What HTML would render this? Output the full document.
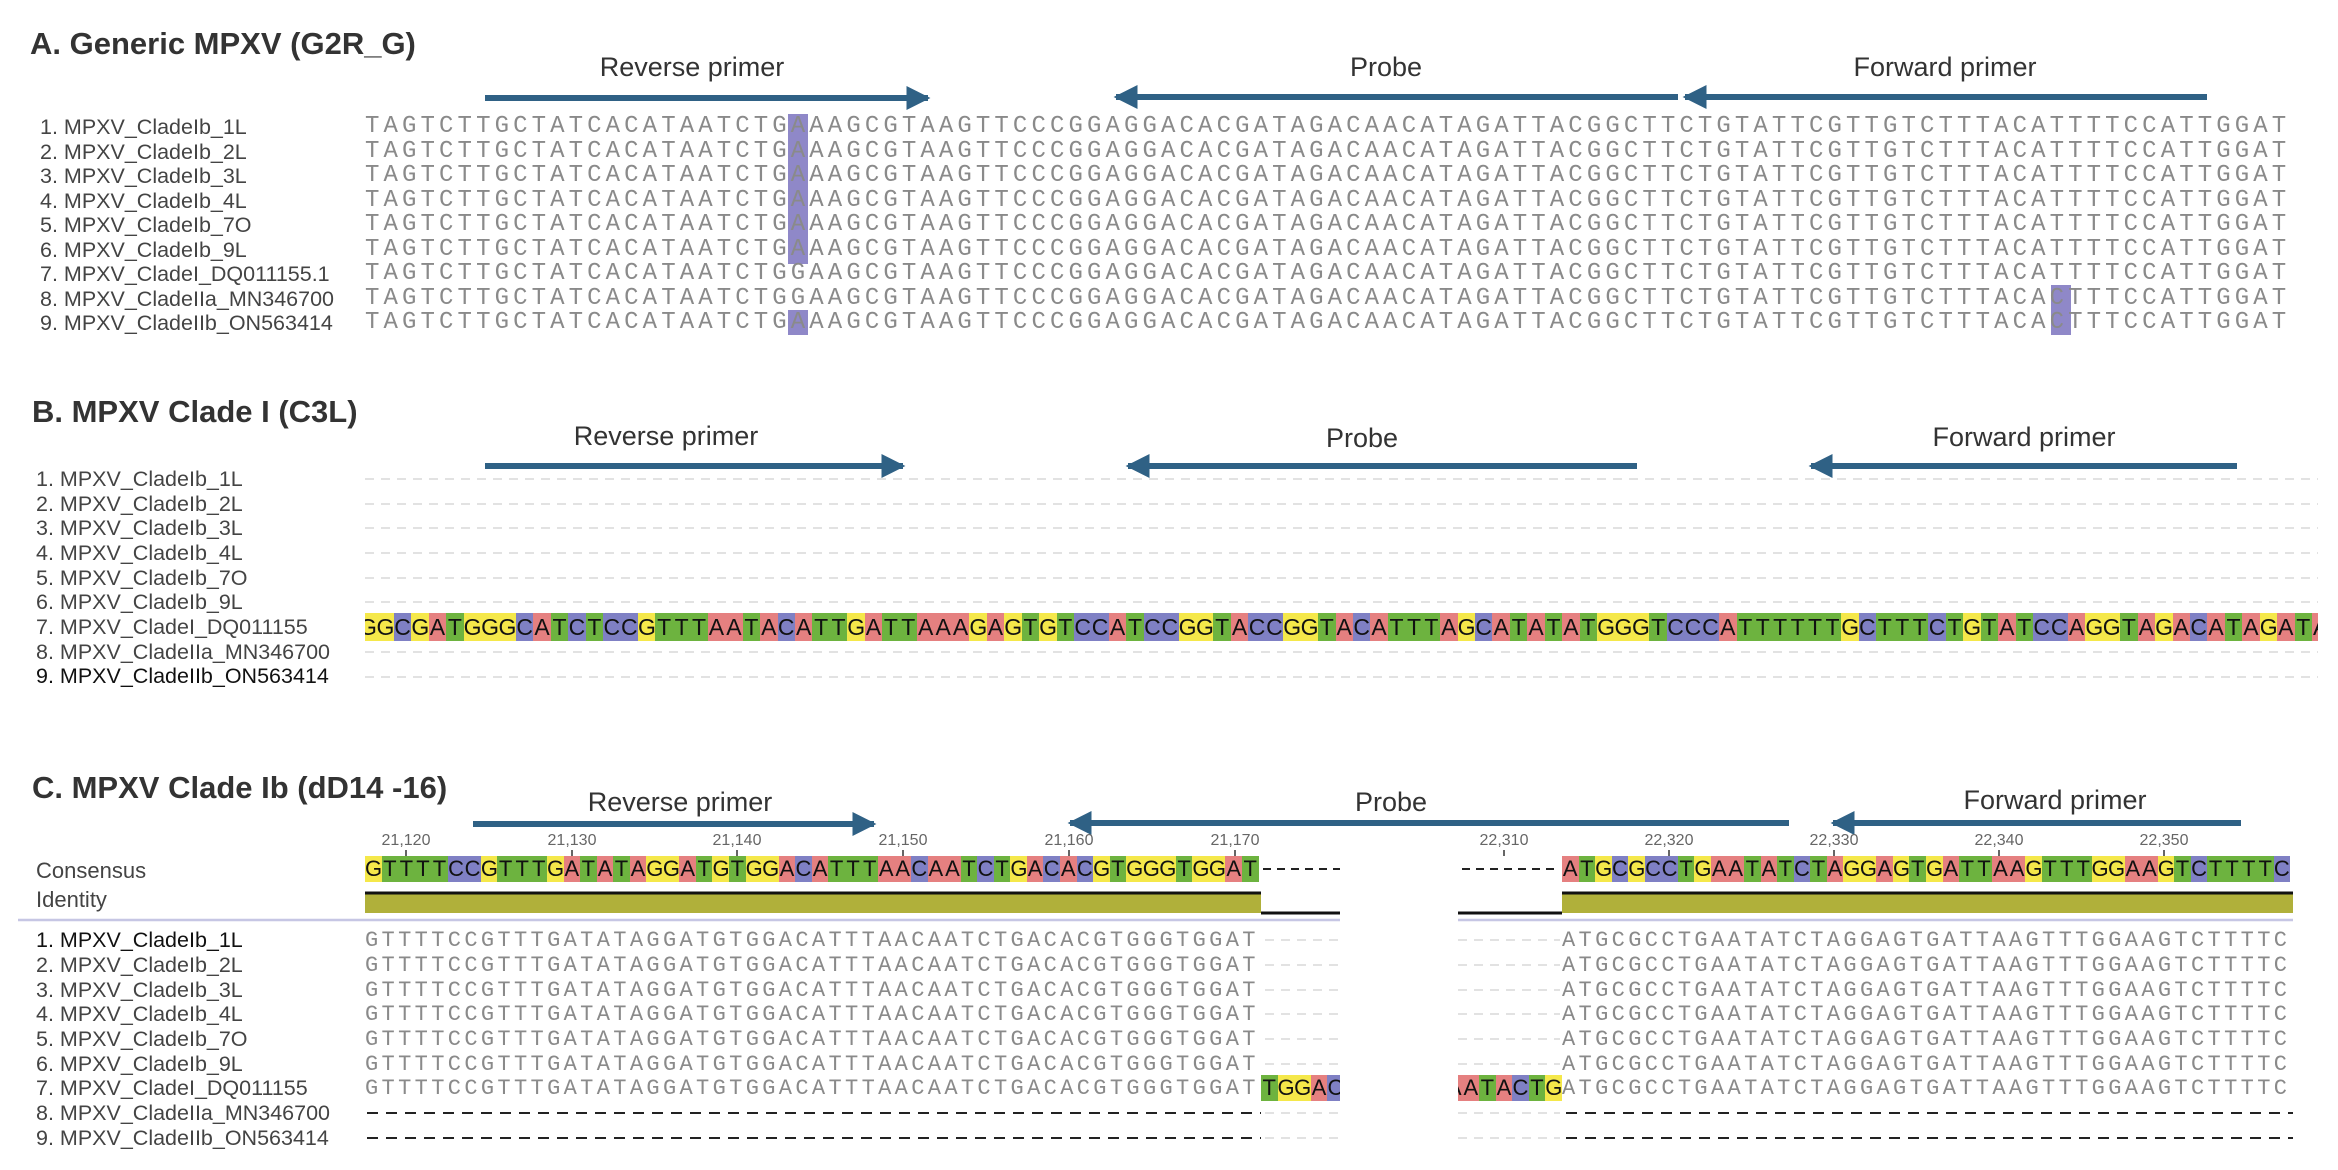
<!DOCTYPE html>
<html><head><meta charset="utf-8"><style>
*{margin:0;padding:0}
body{width:2338px;height:1170px;background:#fff;position:relative;overflow:hidden;font-family:"Liberation Sans",sans-serif}
.t{position:absolute;white-space:nowrap}
.title{font-weight:bold;font-size:31px;color:#333;line-height:36px}
.lab{font-size:27px;color:#333;line-height:32px;transform:translateX(-50%)}
.nm{font-size:21.5px;color:#444;line-height:25px;left:36px}
.sa{font-family:"Liberation Mono",monospace;font-size:24px;letter-spacing:4.11px;color:#8a8a8a;line-height:25px;left:365px}
.sc{font-family:"Liberation Mono",monospace;font-size:22px;letter-spacing:3.35px;color:#8a8a8a;line-height:25px}
.tk{font-size:16px;color:#666;line-height:18px;transform:translateX(-50%)}
.cb{position:absolute;white-space:nowrap;display:flex;overflow:hidden}
.cb b{display:inline-block;flex:none;text-align:center;font-weight:normal;color:#111;font-family:"Liberation Sans",sans-serif}
.w17 b{width:17.44px;height:28px;line-height:28px;font-size:23px}
.w16 b{width:16.55px;height:26px;line-height:26px;font-size:22px}
b.A{background:#e58080}b.T{background:#6db33f}b.G{background:#f5e84a}b.C{background:#7f80c4}
</style></head><body>
<svg width="2338" height="1170" style="position:absolute;left:0;top:0">
<defs>
<marker id="ah" viewBox="0 0 10 10" refX="9" refY="5" markerWidth="4" markerHeight="4" orient="auto"><path d="M0,0L10,5L0,10z" fill="#2f6185"/></marker>
</defs>
<g stroke="#2f6185" stroke-width="6" marker-end="url(#ah)">
<line x1="485" y1="98" x2="928" y2="98"/>
<line x1="1678" y1="97" x2="1116" y2="97"/>
<line x1="2207" y1="97" x2="1685" y2="97"/>
<line x1="485" y1="466" x2="903" y2="466"/>
<line x1="1637" y1="466" x2="1128" y2="466"/>
<line x1="2237" y1="466" x2="1811" y2="466"/>
<line x1="473" y1="824" x2="874" y2="824"/>
<line x1="1789" y1="823" x2="1070" y2="823"/>
<line x1="2241" y1="823" x2="1833" y2="823"/>
</g>
<rect x="788" y="114" width="20" height="150" fill="#8f88c8"/>
<rect x="788" y="310" width="20" height="25" fill="#8f88c8"/>
<rect x="2051" y="285" width="20" height="50" fill="#8f88c8"/>
<g stroke="#e2e2e2" stroke-width="2" stroke-dasharray="9 7">
<line x1="365" y1="479" x2="2318" y2="479"/>
<line x1="365" y1="504" x2="2318" y2="504"/>
<line x1="365" y1="528" x2="2318" y2="528"/>
<line x1="365" y1="553" x2="2318" y2="553"/>
<line x1="365" y1="578" x2="2318" y2="578"/>
<line x1="365" y1="602" x2="2318" y2="602"/>
<line x1="365" y1="652" x2="2318" y2="652"/>
<line x1="365" y1="677" x2="2318" y2="677"/>
</g>
<g stroke="#666" stroke-width="2">
<line x1="406" y1="850" x2="406" y2="856"/><line x1="572" y1="850" x2="572" y2="856"/><line x1="737" y1="850" x2="737" y2="856"/><line x1="903" y1="850" x2="903" y2="856"/><line x1="1069" y1="850" x2="1069" y2="856"/><line x1="1235" y1="850" x2="1235" y2="856"/>
<line x1="1504" y1="850" x2="1504" y2="856"/><line x1="1669" y1="850" x2="1669" y2="856"/><line x1="1834" y1="850" x2="1834" y2="856"/><line x1="1999" y1="850" x2="1999" y2="856"/><line x1="2164" y1="850" x2="2164" y2="856"/>
</g>
<g stroke="#222" stroke-width="2" stroke-dasharray="8 6">
<line x1="1263" y1="869" x2="1340" y2="869"/>
<line x1="1462" y1="869" x2="1560" y2="869"/>
</g>
<rect x="365" y="893" width="896" height="20" fill="#b0b03a"/>
<line x1="365" y1="893" x2="1261" y2="893" stroke="#111" stroke-width="3"/>
<line x1="1261" y1="913" x2="1340" y2="913" stroke="#111" stroke-width="3"/>
<rect x="1562" y="893" width="731" height="20" fill="#b0b03a"/>
<line x1="1562" y1="893" x2="2293" y2="893" stroke="#111" stroke-width="3"/>
<line x1="1458" y1="913" x2="1562" y2="913" stroke="#111" stroke-width="3"/>
<line x1="18" y1="920" x2="1340" y2="920" stroke="#c6c6e4" stroke-width="2.5"/>
<line x1="1458" y1="920" x2="2293" y2="920" stroke="#c6c6e4" stroke-width="2.5"/>
<g stroke="#e2e2e2" stroke-width="2" stroke-dasharray="9 7">
<line x1="1265" y1="940" x2="1340" y2="940"/><line x1="1458" y1="940" x2="1560" y2="940"/>
<line x1="1265" y1="965" x2="1340" y2="965"/><line x1="1458" y1="965" x2="1560" y2="965"/>
<line x1="1265" y1="990" x2="1340" y2="990"/><line x1="1458" y1="990" x2="1560" y2="990"/>
<line x1="1265" y1="1014" x2="1340" y2="1014"/><line x1="1458" y1="1014" x2="1560" y2="1014"/>
<line x1="1265" y1="1039" x2="1340" y2="1039"/><line x1="1458" y1="1039" x2="1560" y2="1039"/>
<line x1="1265" y1="1064" x2="1340" y2="1064"/><line x1="1458" y1="1064" x2="1560" y2="1064"/>
<line x1="1265" y1="1113" x2="1340" y2="1113"/><line x1="1458" y1="1113" x2="1560" y2="1113"/>
<line x1="1265" y1="1138" x2="1340" y2="1138"/><line x1="1458" y1="1138" x2="1560" y2="1138"/>
</g>
<g stroke="#222" stroke-width="2" stroke-dasharray="11 8">
<line x1="367" y1="1113" x2="1261" y2="1113"/><line x1="1566" y1="1113" x2="2293" y2="1113"/>
<line x1="367" y1="1138" x2="1261" y2="1138"/><line x1="1566" y1="1138" x2="2293" y2="1138"/>
</g>
</svg>

<div class="t title" style="left:30px;top:26px">A. Generic MPXV (G2R_G)</div>
<div class="t lab" style="left:692px;top:51px">Reverse primer</div>
<div class="t lab" style="left:1386px;top:51px">Probe</div>
<div class="t lab" style="left:1945px;top:51px">Forward primer</div>

<div class="t nm" style="top:115px;left:40px">1. MPXV_CladeIb_1L</div>
<div class="t nm" style="top:140px;left:40px">2. MPXV_CladeIb_2L</div>
<div class="t nm" style="top:164px;left:40px">3. MPXV_CladeIb_3L</div>
<div class="t nm" style="top:189px;left:40px">4. MPXV_CladeIb_4L</div>
<div class="t nm" style="top:213px;left:40px">5. MPXV_CladeIb_7O</div>
<div class="t nm" style="top:238px;left:40px">6. MPXV_CladeIb_9L</div>
<div class="t nm" style="top:262px;left:40px">7. MPXV_CladeI_DQ011155.1</div>
<div class="t nm" style="top:287px;left:40px">8. MPXV_CladeIIa_MN346700</div>
<div class="t nm" style="top:311px;left:40px">9. MPXV_CladeIIb_ON563414</div>

<div class="t sa" style="top:114px">TAGTCTTGCTATCACATAATCTGAAAGCGTAAGTTCCCGGAGGACACGATAGACAACATAGATTACGGCTTCTGTATTCGTTGTCTTTACATTTTCCATTGGAT</div>
<div class="t sa" style="top:139px">TAGTCTTGCTATCACATAATCTGAAAGCGTAAGTTCCCGGAGGACACGATAGACAACATAGATTACGGCTTCTGTATTCGTTGTCTTTACATTTTCCATTGGAT</div>
<div class="t sa" style="top:163px">TAGTCTTGCTATCACATAATCTGAAAGCGTAAGTTCCCGGAGGACACGATAGACAACATAGATTACGGCTTCTGTATTCGTTGTCTTTACATTTTCCATTGGAT</div>
<div class="t sa" style="top:188px">TAGTCTTGCTATCACATAATCTGAAAGCGTAAGTTCCCGGAGGACACGATAGACAACATAGATTACGGCTTCTGTATTCGTTGTCTTTACATTTTCCATTGGAT</div>
<div class="t sa" style="top:212px">TAGTCTTGCTATCACATAATCTGAAAGCGTAAGTTCCCGGAGGACACGATAGACAACATAGATTACGGCTTCTGTATTCGTTGTCTTTACATTTTCCATTGGAT</div>
<div class="t sa" style="top:237px">TAGTCTTGCTATCACATAATCTGAAAGCGTAAGTTCCCGGAGGACACGATAGACAACATAGATTACGGCTTCTGTATTCGTTGTCTTTACATTTTCCATTGGAT</div>
<div class="t sa" style="top:261px">TAGTCTTGCTATCACATAATCTGGAAGCGTAAGTTCCCGGAGGACACGATAGACAACATAGATTACGGCTTCTGTATTCGTTGTCTTTACATTTTCCATTGGAT</div>
<div class="t sa" style="top:286px">TAGTCTTGCTATCACATAATCTGGAAGCGTAAGTTCCCGGAGGACACGATAGACAACATAGATTACGGCTTCTGTATTCGTTGTCTTTACACTTTCCATTGGAT</div>
<div class="t sa" style="top:310px">TAGTCTTGCTATCACATAATCTGAAAGCGTAAGTTCCCGGAGGACACGATAGACAACATAGATTACGGCTTCTGTATTCGTTGTCTTTACACTTTCCATTGGAT</div>

<div class="t title" style="left:32px;top:394px">B. MPXV Clade I (C3L)</div>
<div class="t lab" style="left:666px;top:420px">Reverse primer</div>
<div class="t lab" style="left:1362px;top:422px">Probe</div>
<div class="t lab" style="left:2024px;top:421px">Forward primer</div>

<div class="t nm" style="top:467px">1. MPXV_CladeIb_1L</div>
<div class="t nm" style="top:492px">2. MPXV_CladeIb_2L</div>
<div class="t nm" style="top:516px">3. MPXV_CladeIb_3L</div>
<div class="t nm" style="top:541px">4. MPXV_CladeIb_4L</div>
<div class="t nm" style="top:566px">5. MPXV_CladeIb_7O</div>
<div class="t nm" style="top:590px">6. MPXV_CladeIb_9L</div>
<div class="t nm" style="top:615px">7. MPXV_CladeI_DQ011155</div>
<div class="t nm" style="top:640px">8. MPXV_CladeIIa_MN346700</div>
<div class="t nm" style="top:664px;color:#111">9. MPXV_CladeIIb_ON563414</div>

<div class="cb w17" style="left:365px;top:613px;width:1953px"><div style="display:flex;margin-left:-6px"><b class="G">G</b><b class="G">G</b><b class="C">C</b><b class="G">G</b><b class="A">A</b><b class="T">T</b><b class="G">G</b><b class="G">G</b><b class="G">G</b><b class="C">C</b><b class="A">A</b><b class="T">T</b><b class="C">C</b><b class="T">T</b><b class="C">C</b><b class="C">C</b><b class="G">G</b><b class="T">T</b><b class="T">T</b><b class="T">T</b><b class="A">A</b><b class="A">A</b><b class="T">T</b><b class="A">A</b><b class="C">C</b><b class="A">A</b><b class="T">T</b><b class="T">T</b><b class="G">G</b><b class="A">A</b><b class="T">T</b><b class="T">T</b><b class="A">A</b><b class="A">A</b><b class="A">A</b><b class="G">G</b><b class="A">A</b><b class="G">G</b><b class="T">T</b><b class="G">G</b><b class="T">T</b><b class="C">C</b><b class="C">C</b><b class="A">A</b><b class="T">T</b><b class="C">C</b><b class="C">C</b><b class="G">G</b><b class="G">G</b><b class="T">T</b><b class="A">A</b><b class="C">C</b><b class="C">C</b><b class="G">G</b><b class="G">G</b><b class="T">T</b><b class="A">A</b><b class="C">C</b><b class="A">A</b><b class="T">T</b><b class="T">T</b><b class="T">T</b><b class="A">A</b><b class="G">G</b><b class="C">C</b><b class="A">A</b><b class="T">T</b><b class="A">A</b><b class="T">T</b><b class="A">A</b><b class="T">T</b><b class="G">G</b><b class="G">G</b><b class="G">G</b><b class="T">T</b><b class="C">C</b><b class="C">C</b><b class="C">C</b><b class="A">A</b><b class="T">T</b><b class="T">T</b><b class="T">T</b><b class="T">T</b><b class="T">T</b><b class="T">T</b><b class="G">G</b><b class="C">C</b><b class="T">T</b><b class="T">T</b><b class="T">T</b><b class="C">C</b><b class="T">T</b><b class="G">G</b><b class="T">T</b><b class="A">A</b><b class="T">T</b><b class="C">C</b><b class="C">C</b><b class="A">A</b><b class="G">G</b><b class="G">G</b><b class="T">T</b><b class="A">A</b><b class="G">G</b><b class="A">A</b><b class="C">C</b><b class="A">A</b><b class="T">T</b><b class="A">A</b><b class="G">G</b><b class="A">A</b><b class="T">T</b><b class="A">A</b></div></div>

<div class="t title" style="left:32px;top:770px">C. MPXV Clade Ib (dD14 -16)</div>
<div class="t lab" style="left:680px;top:786px">Reverse primer</div>
<div class="t lab" style="left:1391px;top:786px">Probe</div>
<div class="t lab" style="left:2055px;top:784px">Forward primer</div>

<div class="t tk" style="left:406px;top:832px">21,120</div>
<div class="t tk" style="left:572px;top:832px">21,130</div>
<div class="t tk" style="left:737px;top:832px">21,140</div>
<div class="t tk" style="left:903px;top:832px">21,150</div>
<div class="t tk" style="left:1069px;top:832px">21,160</div>
<div class="t tk" style="left:1235px;top:832px">21,170</div>
<div class="t tk" style="left:1504px;top:832px">22,310</div>
<div class="t tk" style="left:1669px;top:832px">22,320</div>
<div class="t tk" style="left:1834px;top:832px">22,330</div>
<div class="t tk" style="left:1999px;top:832px">22,340</div>
<div class="t tk" style="left:2164px;top:832px">22,350</div>

<div class="t nm" style="top:858px;font-size:22px">Consensus</div>
<div class="t nm" style="top:887px;font-size:22px">Identity</div>

<div class="cb w16" style="left:365px;top:856px"><b class="G">G</b><b class="T">T</b><b class="T">T</b><b class="T">T</b><b class="T">T</b><b class="C">C</b><b class="C">C</b><b class="G">G</b><b class="T">T</b><b class="T">T</b><b class="T">T</b><b class="G">G</b><b class="A">A</b><b class="T">T</b><b class="A">A</b><b class="T">T</b><b class="A">A</b><b class="G">G</b><b class="G">G</b><b class="A">A</b><b class="T">T</b><b class="G">G</b><b class="T">T</b><b class="G">G</b><b class="G">G</b><b class="A">A</b><b class="C">C</b><b class="A">A</b><b class="T">T</b><b class="T">T</b><b class="T">T</b><b class="A">A</b><b class="A">A</b><b class="C">C</b><b class="A">A</b><b class="A">A</b><b class="T">T</b><b class="C">C</b><b class="T">T</b><b class="G">G</b><b class="A">A</b><b class="C">C</b><b class="A">A</b><b class="C">C</b><b class="G">G</b><b class="T">T</b><b class="G">G</b><b class="G">G</b><b class="G">G</b><b class="T">T</b><b class="G">G</b><b class="G">G</b><b class="A">A</b><b class="T">T</b></div>
<div class="cb w16" style="left:1562px;top:856px"><b class="A">A</b><b class="T">T</b><b class="G">G</b><b class="C">C</b><b class="G">G</b><b class="C">C</b><b class="C">C</b><b class="T">T</b><b class="G">G</b><b class="A">A</b><b class="A">A</b><b class="T">T</b><b class="A">A</b><b class="T">T</b><b class="C">C</b><b class="T">T</b><b class="A">A</b><b class="G">G</b><b class="G">G</b><b class="A">A</b><b class="G">G</b><b class="T">T</b><b class="G">G</b><b class="A">A</b><b class="T">T</b><b class="T">T</b><b class="A">A</b><b class="A">A</b><b class="G">G</b><b class="T">T</b><b class="T">T</b><b class="T">T</b><b class="G">G</b><b class="G">G</b><b class="A">A</b><b class="A">A</b><b class="G">G</b><b class="T">T</b><b class="C">C</b><b class="T">T</b><b class="T">T</b><b class="T">T</b><b class="T">T</b><b class="C">C</b></div>

<div class="t nm" style="top:928px;color:#111">1. MPXV_CladeIb_1L</div>
<div class="t nm" style="top:953px">2. MPXV_CladeIb_2L</div>
<div class="t nm" style="top:978px">3. MPXV_CladeIb_3L</div>
<div class="t nm" style="top:1002px">4. MPXV_CladeIb_4L</div>
<div class="t nm" style="top:1027px">5. MPXV_CladeIb_7O</div>
<div class="t nm" style="top:1052px">6. MPXV_CladeIb_9L</div>
<div class="t nm" style="top:1076px">7. MPXV_CladeI_DQ011155</div>
<div class="t nm" style="top:1101px">8. MPXV_CladeIIa_MN346700</div>
<div class="t nm" style="top:1126px">9. MPXV_CladeIIb_ON563414</div>

<div class="t sc" style="left:365px;top:928px">GTTTTCCGTTTGATATAGGATGTGGACATTTAACAATCTGACACGTGGGTGGAT</div>
<div class="t sc" style="left:365px;top:953px">GTTTTCCGTTTGATATAGGATGTGGACATTTAACAATCTGACACGTGGGTGGAT</div>
<div class="t sc" style="left:365px;top:978px">GTTTTCCGTTTGATATAGGATGTGGACATTTAACAATCTGACACGTGGGTGGAT</div>
<div class="t sc" style="left:365px;top:1002px">GTTTTCCGTTTGATATAGGATGTGGACATTTAACAATCTGACACGTGGGTGGAT</div>
<div class="t sc" style="left:365px;top:1027px">GTTTTCCGTTTGATATAGGATGTGGACATTTAACAATCTGACACGTGGGTGGAT</div>
<div class="t sc" style="left:365px;top:1052px">GTTTTCCGTTTGATATAGGATGTGGACATTTAACAATCTGACACGTGGGTGGAT</div>
<div class="t sc" style="left:365px;top:1076px">GTTTTCCGTTTGATATAGGATGTGGACATTTAACAATCTGACACGTGGGTGGAT</div>

<div class="t sc" style="left:1562px;top:928px">ATGCGCCTGAATATCTAGGAGTGATTAAGTTTGGAAGTCTTTTC</div>
<div class="t sc" style="left:1562px;top:953px">ATGCGCCTGAATATCTAGGAGTGATTAAGTTTGGAAGTCTTTTC</div>
<div class="t sc" style="left:1562px;top:978px">ATGCGCCTGAATATCTAGGAGTGATTAAGTTTGGAAGTCTTTTC</div>
<div class="t sc" style="left:1562px;top:1002px">ATGCGCCTGAATATCTAGGAGTGATTAAGTTTGGAAGTCTTTTC</div>
<div class="t sc" style="left:1562px;top:1027px">ATGCGCCTGAATATCTAGGAGTGATTAAGTTTGGAAGTCTTTTC</div>
<div class="t sc" style="left:1562px;top:1052px">ATGCGCCTGAATATCTAGGAGTGATTAAGTTTGGAAGTCTTTTC</div>
<div class="t sc" style="left:1562px;top:1076px">ATGCGCCTGAATATCTAGGAGTGATTAAGTTTGGAAGTCTTTTC</div>

<div class="cb w16" style="left:1261px;top:1075px;width:79px"><b class="T">T</b><b class="G">G</b><b class="G">G</b><b class="A">A</b><b class="C">C</b></div>
<div class="cb w16" style="left:1458px;top:1075px;width:104px"><div style="display:flex;margin-left:-12px"><b class="A">A</b><b class="A">A</b><b class="T">T</b><b class="A">A</b><b class="C">C</b><b class="T">T</b><b class="G">G</b></div></div>
</body></html>
